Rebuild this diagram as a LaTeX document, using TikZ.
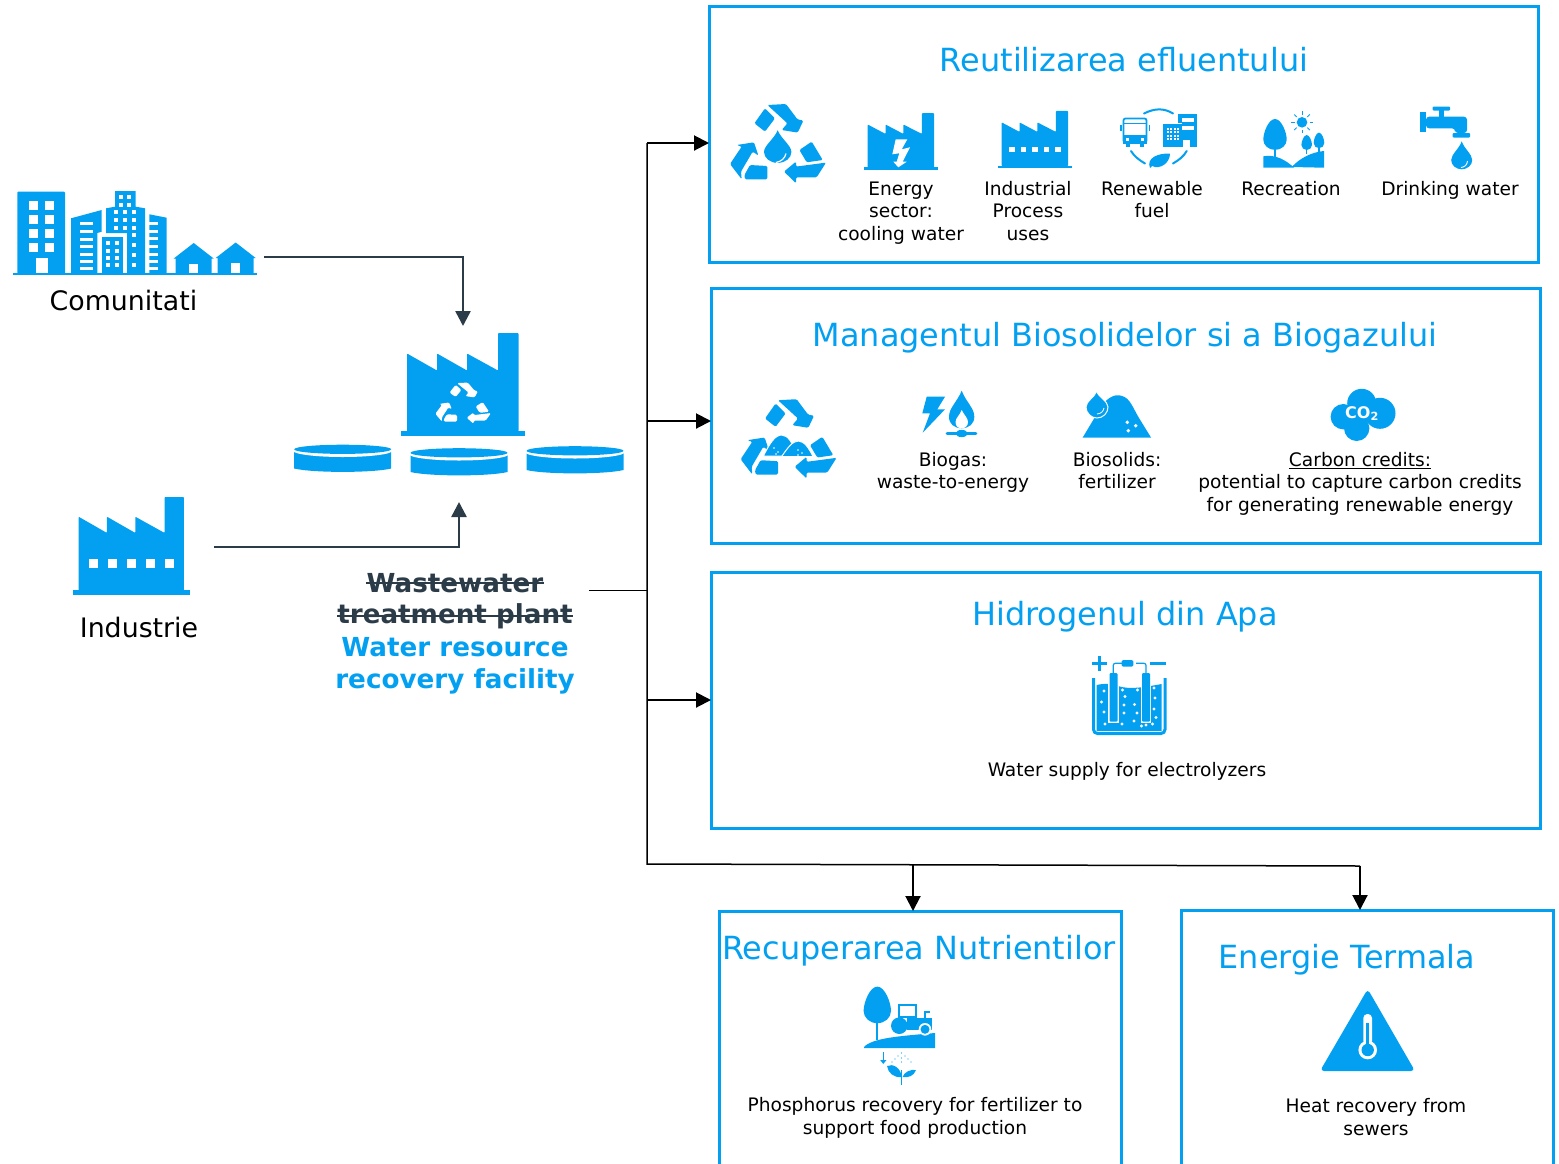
\documentclass[tikz,border=0pt]{standalone}
\usepackage{fontspec}
\setmainfont{DejaVu Sans}
\usetikzlibrary{arrows.meta}
\definecolor{wrablue}{HTML}{03A0F1}
\definecolor{wradark}{HTML}{2B3B47}
\tikzset{
    pics/factory/.style={code={
        \fill[wrablue, rounded corners=.8pt] (-56,-4) -- (-56,-82) -- (-26,-65) -- (-26,-82) -- (4,-65) -- (4,-82) -- (35,-65) -- (35,-102.5) -- (55.5,-102.5) -- (55.5,-4) -- cycle;
        \fill[wrablue] (-62,-5) rectangle (62,0);
    }},
    pics/factorydots/.style={code={
        \foreach \x in {-40,-20,0,20,40}
            \fill[white] (\x-4.7,-37.5) rectangle (\x+4.7,-28.5);
    }},
    pics/recycle/.style={code={
        \fill[#1, rounded corners=1.3pt] (-23.3,-20) -- (-12.7,-35) -- (-2.7,-25) -- (-12.7,-11.7) -- cycle;
        \fill[#1, rounded corners=1.3pt] (-10.3,-38.3) -- (8.3,-39.3) -- (19.7,-24) -- (25.7,-22.7) -- (20,-10.7) -- (4,-13.3) -- (9.7,-20) -- cycle;
        \fill[#1, rounded corners=1.3pt] (-41,1.7) -- (-23.7,-1) -- (-19.3,12.3) -- (-25,8.3) -- (-36.7,28.3) -- (-36,36) -- (-47.7,20.7) -- (-36,3.3) -- cycle;
        \fill[#1, rounded corners=1.3pt] (-27.7,21.7) -- (-10.3,22.7) -- (-10.3,36) -- (-32.7,36) -- (-33.3,31.7) -- cycle;
        \fill[#1, rounded corners=1.3pt] (21.7,6.7) -- (34,-1.7) -- (45,16.7) -- (29,19) -- cycle;
        \fill[#1, rounded corners=1.3pt] (6.3,28.3) -- (18.3,18.3) -- (18.3,23.3) -- (48.3,19.3) -- (39,34) -- (18.3,34) -- (18.3,40) -- cycle;
    }},
    pics/drop/.style={code={
        \fill[#1] (0,-2) .. controls (.25,-1.2) and (1,-.6) .. (1,0) .. controls (1,.55) and (.55,1) .. (0,1) .. controls (-.55,1) and (-1,.55) .. (-1,0) .. controls (-1,-.6) and (-.25,-1.2) .. (0,-2) -- cycle;
    }},
    pics/treetop/.style={code={
        \fill[wrablue] (0,-2) .. controls (.55,-2) and (1,-.7) .. (1,0) .. controls (1,.55) and (.55,1) .. (0,1) .. controls (-.55,1) and (-1,.55) .. (-1,0) .. controls (-1,-.7) and (-.55,-2) .. (0,-2) -- cycle;
    }},
    pics/tank/.style={code={
        \fill[wrablue] (-48.5,0) -- (-48.5,18) .. controls (-30,22.5) and (30,22.5) .. (48.5,18) -- (48.5,0) -- cycle;
        \fill[white] (0,0) ellipse[x radius=50, y radius=6.5];
        \fill[wrablue] (0,-1.2) ellipse[x radius=48.5, y radius=4.6];
    }},
    pics/house/.style={code={
        \fill[wrablue] (-20,0) -- (0,-15.5) -- (20,0) -- (18,0) -- (18,15) -- (-18,15) -- (-18,0) -- cycle;
        \fill[white] (-4.5,5) rectangle (4.5,14.5);
    }}
}
\begin{document}
\begin{tikzpicture}[x=1pt, y=-1pt,
    panel/.style={draw=wrablue, line width=3pt, rectangle, inner sep=0pt, outer sep=0pt, anchor=north west},
    paneltitle/.style={text=wrablue, font=\fontsize{31.9}{36}\selectfont},
    label/.style={text=black, align=center, font=\fontsize{18.6}{22.6}\selectfont},
    sitelabel/.style={text=black, font=\fontsize{26.8}{30}\selectfont},
    plantold/.style={text=wradark, inner sep=0pt, font=\fontsize{26.2}{30}\selectfont\bfseries},
    plantnew/.style={text=wrablue, font=\fontsize{26.2}{30}\selectfont\bfseries},
    strike/.style={draw=wradark, line width=1.8pt},
    feed/.style={draw=wradark, line width=2.5pt, -{Triangle[length=15pt,width=15pt]}},
    flow/.style={draw=black, line width=2pt, -{Triangle[length=15pt,width=15pt]}},
    bus/.style={draw=black, line width=1.5pt}]
    \useasboundingbox (0,0) rectangle (1559,1163);

    % Panels
    \node[panel, minimum width=829pt, minimum height=256pt] (reuse) at (709,6) {};
    \node[panel, minimum width=829pt, minimum height=255pt] (biosolids) at (711,288) {};
    \node[panel, minimum width=829pt, minimum height=256pt] (hydrogen) at (711,572) {};
    \node[panel, minimum width=402pt, minimum height=300pt] (nutrients) at (719,911) {};
    \node[panel, minimum width=372pt, minimum height=300pt] (thermal) at (1181,910) {};

    % Titles
    \node[paneltitle] (reusetitle) at (1124,60) {Reutilizarea efluentului};
    \node[paneltitle] (biosolidstitle) at (1125,338) {Managentul Biosolidelor si a Biogazului};
    \node[paneltitle] (hydrogentitle) at (1125,617) {Hidrogenul din Apa};
    \node[paneltitle] (nutrientstitle) at (919,951) {Recuperarea Nutrientilor};
    \node[paneltitle] (thermaltitle) at (1347,960) {Energie Termala};

    % Labels
    \node[sitelabel] (comunitati) at (123.5,301) {Comunitati};
    \node[sitelabel] (industrie) at (139,627) {Industrie};
    \node[plantold] (wastewater) at (455,583) {Wastewater};
    \node[plantold] (treatment) at (455,616) {treatment plant};
    \node[plantnew] (resource) at (455,647) {Water resource};
    \node[plantnew] (recovery) at (455,681) {recovery facility};
    \draw[strike] (wastewater.west) -- (wastewater.east);
    \draw[strike] (treatment.west) -- (treatment.east);
    \node[label] (energy) at (901,213) {Energy\\sector:\\cooling water};
    \node[label] (industrial) at (1028,211) {Industrial\\Process\\uses};
    \node[label] (renewable) at (1152,199.5) {Renewable\\fuel};
    \node[label] (recreation) at (1291,189) {Recreation};
    \node[label] (drinking) at (1450,190) {Drinking water};
    \node[label] (biogas) at (953,472.5) {Biogas:\\waste-to-energy};
    \node[label] (fertilizer) at (1117,470.5) {Biosolids:\\fertilizer};
    \node[label] (credits) at (1360,483.5) {\underline{Carbon credits:}\\potential to capture carbon credits\\for generating renewable energy};
    \node[label] (electro) at (1127,771) {Water supply for electrolyzers};
    \node[label] (phosphorus) at (915,1118) {Phosphorus recovery for fertilizer to\\support food production};
    \node[label] (heat) at (1376,1117) {Heat recovery from\\sewers};

    % Arrows
    \coordinate (comout) at (264,257);
    \coordinate (plantin) at (463,326);
    \coordinate (indout) at (214,547);
    \coordinate (tankin) at (459,502);
    \coordinate (plantout) at (589,590);
    \coordinate (bustop) at (647,143);
    \coordinate (busmid) at (647,421);
    \coordinate (bushyd) at (647,700);
    \coordinate (busbot) at (647,590);
    \coordinate (busend) at (647,864);
    \coordinate (tapnut) at (913,865);
    \coordinate (tapheat) at (1360,866);
    \draw[feed] (comout) -| (plantin);
    \draw[feed] (indout) -| (tankin);
    \draw[bus, line width=1pt] (plantout) -- (busbot);
    \draw[bus] (bustop) -- (busend) -- (tapheat);
    \draw[flow] (bustop) -- (bustop -| reuse.west);
    \draw[flow] (busmid) -- (busmid -| biosolids.west);
    \draw[flow] (bushyd) -- (bushyd -| hydrogen.west);
    \draw[flow] (tapnut) -- (tapnut |- nutrients.north);
    \draw[flow] (tapheat) -- (tapheat |- thermal.north);

    % Comunitati icon
    \fill[wrablue] (13.3,272.7) rectangle (256.7,275.3);
    \fill[wrablue, rounded corners=.8pt] (17.3,191.7) rectangle (65,274);
    \foreach \y in {201,215,229,243} {
        \fill[white] (29,\y) rectangle (38,\y+8.5);
        \fill[white] (45,\y) rectangle (54,\y+8.5);
    }
    \fill[white] (36,258) rectangle (48.3,273);
    \fill[wrablue] (71,218.3) -- (101.7,210) -- (101.7,231.7) -- (97.3,233) -- (97.3,274) -- (71,274) -- cycle;
    \foreach \y in {222,230,238,245,253,260,267}
        \fill[white] (80,\y) rectangle (93,\y+3);
    \fill[wrablue] (115,191) -- (135.7,191) -- (135.7,206.7) -- (145,208.3) -- (145,274) -- (127,274) -- (127,233) -- (106,233) -- (106,208.3) -- (115,206.7) -- cycle;
    \foreach \x in {119,127} \foreach \y in {195,203}
        \fill[white] (\x,\y) rectangle (\x+3.8,\y+3.8);
    \foreach \x in {114,123,132} \foreach \y in {210,218,226}
        \fill[white] (\x,\y) rectangle (\x+4,\y+3.6);
    \foreach \y in {233,243,253,263}
        \fill[white] (132,\y) rectangle (136,\y+3.6);
    \fill[wrablue] (101.7,236.7) rectangle (123.3,274);
    \foreach \x in {106,115} \foreach \y in {241,248.5,256,263}
        \fill[white] (\x,\y) rectangle (\x+4,\y+4);
    \fill[wrablue] (149.3,214.3) -- (166.7,217.7) -- (166.7,274) -- (149.3,274) -- cycle;
    \foreach \y in {222,230,237,245,253,260,267}
        \fill[white] (149.3,\y) rectangle (158,\y+2.6);
    \pic at (193.7,258.5) {house};
    \pic at (235.7,258) {house};

    % Plant icons
    \pic at (463,435.5) {factory};
    \pic[xscale=.58, yscale=.52] at (463,403) {recycle=white};
    \pic at (342.7,450.5) {tank};
    \pic at (459,454) {tank};
    \pic at (575,452) {tank};
    \pic[xscale=.945, yscale=.955] at (131.5,595) {factory};
    \pic[scale=.95] at (131.5,595) {factorydots};

    % Reuse icons
    \pic at (777.7,143.3) {recycle=wrablue};
    \pic[xscale=13.7, yscale=10.9] at (777.7,152) {drop=wrablue};
    \draw[white, line width=1.2pt] (786,153.5) .. controls (785,158.5) and (781,161.5) .. (776,162.5);
    \pic[xscale=.595, yscale=.555] at (901,170) {factory};
    \fill[white] (895.7,139.3) -- (907.3,139.3) -- (901.7,149.3) -- (910,147.3) -- (902.7,161.7) -- (906.7,161.7) -- (898.3,167.3) -- (893.3,161.7) -- (896.7,161.7) -- (899.3,153.3) -- (892.3,154.3) -- cycle;
    \pic[xscale=.595, yscale=.56] at (1035,168.3) {factory};
    \pic[scale=.58] at (1035,168.3) {factorydots};
    % bus
    \draw[wrablue, line width=1.8pt, rounded corners=2pt] (1123.5,118.5) rectangle (1146.5,142.5);
    \fill[wrablue] (1123,135) rectangle (1147,143.5);
    \fill[white] (1126,138) rectangle (1129,140.5);
    \fill[white] (1141,138) rectangle (1144,140.5);
    \fill[wrablue] (1124,122.5) rectangle (1146,124);
    \fill[wrablue] (1126,143) rectangle (1130,146.5);
    \fill[wrablue] (1140,143) rectangle (1144,146.5);
    \fill[wrablue] (1120,125) rectangle (1121.5,131);
    \fill[wrablue] (1148.5,125) rectangle (1150,131);
    % building
    \fill[wrablue] (1177.7,114) rectangle (1196.7,147);
    \fill[white] (1181.5,118) rectangle (1194,121.5);
    \fill[white] (1181.5,126) rectangle (1194,129.5);
    \fill[white] (1183,139.5) rectangle (1190,147);
    \fill[white] (1176,123) rectangle (1182,147);
    \fill[wrablue] (1163.3,124.3) rectangle (1181.7,147);
    \foreach \x in {1166.5,1170,1173.5,1177} \foreach \y in {127.5,131,134.5,138}
        \fill[white] (\x,\y) rectangle (\x+2.4,\y+2.4);
    % ring and leaf
    \draw[wrablue, line width=2pt, line cap=round] (1144,113.5) .. controls (1155,108) and (1164,108) .. (1173,113.5);
    \draw[wrablue, line width=2pt, line cap=round] (1131,151) .. controls (1134,156) and (1139,160) .. (1145,163.5);
    \draw[wrablue, line width=2pt, line cap=round] (1186.7,151) .. controls (1184,156) and (1179,160) .. (1173,163.5);
    \fill[wrablue] (1150,168) .. controls (1146,158) and (1158,153) .. (1170,153.5) .. controls (1170,163) and (1160,170) .. (1152,166) -- cycle;
    % recreation
    \pic[xscale=11.7, yscale=10.3] at (1275,139.6) {treetop};
    \draw[wrablue, line width=2pt] (1275,148) -- (1275,160);
    \fill[wrablue] (1263.3,156.3) .. controls (1275,154) and (1286,160) .. (1294,167.7) -- (1263.3,167.7) -- cycle;
    \fill[wrablue] (1291.7,167) .. controls (1300,158) and (1312,152) .. (1324,151) -- (1324,167.7) -- cycle;
    \fill[wrablue] (1302,122.3) circle[radius=5.3];
    \foreach \a in {0,45,...,315}
        \draw[wrablue, line width=.9pt] (1302,122.3) ++(\a:7.5) -- ++(\a:3.5);
    \pic[xscale=5.3, yscale=5] at (1306.7,145) {treetop};
    \pic[xscale=5.3, yscale=5.2] at (1319,143) {treetop};
    \draw[wrablue, line width=1.2pt] (1306.7,148) -- (1306.7,154);
    \draw[wrablue, line width=1.2pt] (1319,146) -- (1319,152);
    % tap
    \fill[wrablue] (1420.3,111.7) rectangle (1426,132);
    \fill[wrablue, rounded corners=3pt] (1426,116.7) -- (1467,116.7) -- (1467,133) -- (1455,133) -- (1455,128.3) -- (1426,128.3) -- cycle;
    \fill[wrablue, rounded corners=1pt] (1452.7,133) rectangle (1470,137.5);
    \fill[wrablue, rounded corners=1pt] (1432.5,106.5) rectangle (1450,110.5);
    \fill[wrablue] (1438.5,110) rectangle (1443.5,117);
    \pic[xscale=10.5, yscale=9.3] at (1461.7,160) {drop=wrablue};
    \draw[white, line width=.9pt] (1467.5,161) .. controls (1467,165) and (1465,167) .. (1461,167.5);

    % Biosolids icons
    \pic at (788.3,438.5) {recycle=wrablue};
    \filldraw[wrablue, draw=white, line width=1pt] (763.3,456) .. controls (770,443) and (775,435) .. (781.7,435) .. controls (788,435) and (793,443) .. (797,456) -- cycle;
    \filldraw[wrablue, draw=white, line width=1pt] (781.7,456.5) .. controls (788,447) and (793,441) .. (798.3,441) .. controls (804,441) and (809,448) .. (813,456.5) -- cycle;
    \foreach \x/\y in {774/448,778/452,776/454,798/450,802/453,798/455}
        \fill[white] (\x,\y) circle[radius=.8];
    \fill[wrablue] (926.7,396.7) -- (945,396.7) -- (937.3,409.3) -- (945,409.3) -- (922.7,432.7) -- (930,413.3) -- (922.3,413.3) -- cycle;
    \fill[wrablue] (961.7,390.7) .. controls (966,402) and (974.3,408) .. (974.3,416.7) .. controls (974.3,424) and (969,428) .. (961.7,428.3) .. controls (954,428) and (949,424) .. (949,416.7) .. controls (949,408) and (957,402) .. (961.7,390.7) -- cycle;
    \fill[white] (961.7,410) .. controls (964,415) and (968,418) .. (968,422) .. controls (968,426) and (965,428.3) .. (961.7,428.3) .. controls (958,428.3) and (955.5,426) .. (955.5,422) .. controls (955.5,418) and (960,415) .. (961.7,410) -- cycle;
    \draw[wrablue, line width=2.6pt, line cap=round] (947,433.5) -- (976,433.5);
    \fill[wrablue] (961.7,433.5) ellipse[x radius=6, y radius=3.6];
    \fill[wrablue] (1082.7,437.5) -- (1098,412) .. controls (1105,398) and (1115,393) .. (1122,396) .. controls (1130,398) and (1133,408) .. (1139,418) -- (1151,437.5) -- cycle;
    \filldraw[wrablue, draw=white, line width=1pt] (1096.7,391) .. controls (1098,397) and (1108,401) .. (1108,407) .. controls (1108,413) and (1103,418) .. (1097,418) .. controls (1091,418) and (1086,413) .. (1086,407) .. controls (1086,401) and (1095,397) .. (1096.7,391) -- cycle;
    \draw[white, line width=.8pt] (1104,408) .. controls (1103,412) and (1101,413.5) .. (1097,414);
    \foreach \x/\y in {1127.3/422.3,1135.7/425.7,1128.3/430.7}
        \fill[white] (\x,\y) circle[radius=1.9];
    \fill[wrablue] (1343.3,416.7) circle[radius=12.7];
    \fill[wrablue] (1361.7,403.3) circle[radius=14.5];
    \fill[wrablue] (1380,413.3) circle[radius=15.5];
    \fill[wrablue] (1356.7,428.3) circle[radius=12.7];
    \fill[wrablue] (1345,405) rectangle (1385,422);
    \node[text=white, font=\fontsize{16}{18}\selectfont\bfseries] (cotwo) at (1362,413.5) {CO\textsubscript{2}};

    % Electrolyzer icon
    \fill[wrablue] (1096.7,685) .. controls (1105,683) and (1112,684) .. (1118,686) .. controls (1130,690) and (1145,687) .. (1161.7,684) -- (1161.7,731) -- (1096.7,731) -- cycle;
    \draw[wrablue, line width=3pt, rounded corners=4pt] (1093.5,678) -- (1093.5,733.5) -- (1165,733.5) -- (1165,678);
    \foreach \x/\y in {1104/691,1101.5/702,1104/712,1105/724,1122.5/690,1125/696.5,1124/705,1124/713,1122/724,1137.5/690,1134.5/704.5,1137/713,1134/721,1141.5/726,1154/688,1155/698,1154/709,1156/717.5,1152.5/724,1146/725}
        \fill[white] (\x,\y) circle[radius=1.6];
    \fill[white] (1108,684) rectangle (1119,723);
    \fill[white] (1140.5,684) rectangle (1151,723);
    \fill[wrablue, rounded corners=1pt] (1109.5,673) rectangle (1117.5,721.5);
    \fill[wrablue, rounded corners=1pt] (1142,673) rectangle (1150,721.5);
    \draw[wrablue, line width=1.2pt, rounded corners=2pt] (1113.3,674) -- (1113.3,663.3) -- (1125,663.3);
    \draw[wrablue, line width=1.2pt, rounded corners=2pt] (1136,663.3) -- (1146,663.3) -- (1146,674);
    \fill[wrablue, rounded corners=1.5pt] (1121.7,660) rectangle (1133.3,666.7);
    \draw[wrablue, line width=3pt] (1092,663.3) -- (1107,663.3);
    \draw[wrablue, line width=3pt] (1099.3,656) -- (1099.3,670.7);
    \draw[wrablue, line width=3pt] (1150,663.3) -- (1166,663.3);

    % Nutrient icon
    \pic[xscale=13.7, yscale=12.2] at (877.3,1011) {treetop};
    \draw[wrablue, line width=2pt] (877.3,1020) -- (877.3,1040);
    \fill[wrablue] (864,1047) .. controls (872,1038) and (900,1036) .. (935,1033) -- (935,1048) -- (864,1048) -- cycle;
    \fill[wrablue] (899.3,1025.7) circle[radius=8.3];
    \draw[wrablue, line width=1.8pt] (899,1005) rectangle (916,1017);
    \fill[wrablue] (906.7,1018) -- (931.7,1018) -- (931.7,1030) -- (906.7,1030) -- cycle;
    \fill[white] (925,1029.3) circle[radius=6.3];
    \fill[wrablue] (925,1029.3) circle[radius=4.5];
    \draw[wrablue, line width=1.4pt] (925,1018) -- (925,1012) -- (930,1012);
    \draw[wrablue, line width=1.2pt, -{Triangle[length=4pt,width=6pt]}] (883.3,1052) -- (883.3,1064);
    \foreach \x/\y in {901.5/1053,898/1056,905/1056,895/1059,901.5/1058,908/1059,892/1062,901.5/1062,911/1062}
        \fill[wrablue] (\x,\y) circle[radius=.7];
    \fill[wrablue] (887,1066) .. controls (893,1063) and (901,1068) .. (901.7,1077) .. controls (894,1078) and (888,1073) .. (887,1066) -- cycle;
    \fill[wrablue] (916,1070) .. controls (911,1069) and (904,1072) .. (902.5,1077) .. controls (908,1078) and (914,1076) .. (916,1070) -- cycle;
    \draw[wrablue, line width=1.2pt] (901.7,1070) -- (901.7,1085);

    % Thermal icon
    \fill[wrablue, rounded corners=4pt] (1367.7,989) -- (1415,1071) -- (1320,1071) -- cycle;
    \fill[white] (1367.7,1050) circle[radius=9.3];
    \fill[white, rounded corners=4pt] (1363.3,1014) rectangle (1372,1045);
    \fill[wrablue] (1367.7,1050) circle[radius=6.2];
    \fill[wrablue] (1366,1022.7) rectangle (1369.4,1046);
\end{tikzpicture}
\end{document}
